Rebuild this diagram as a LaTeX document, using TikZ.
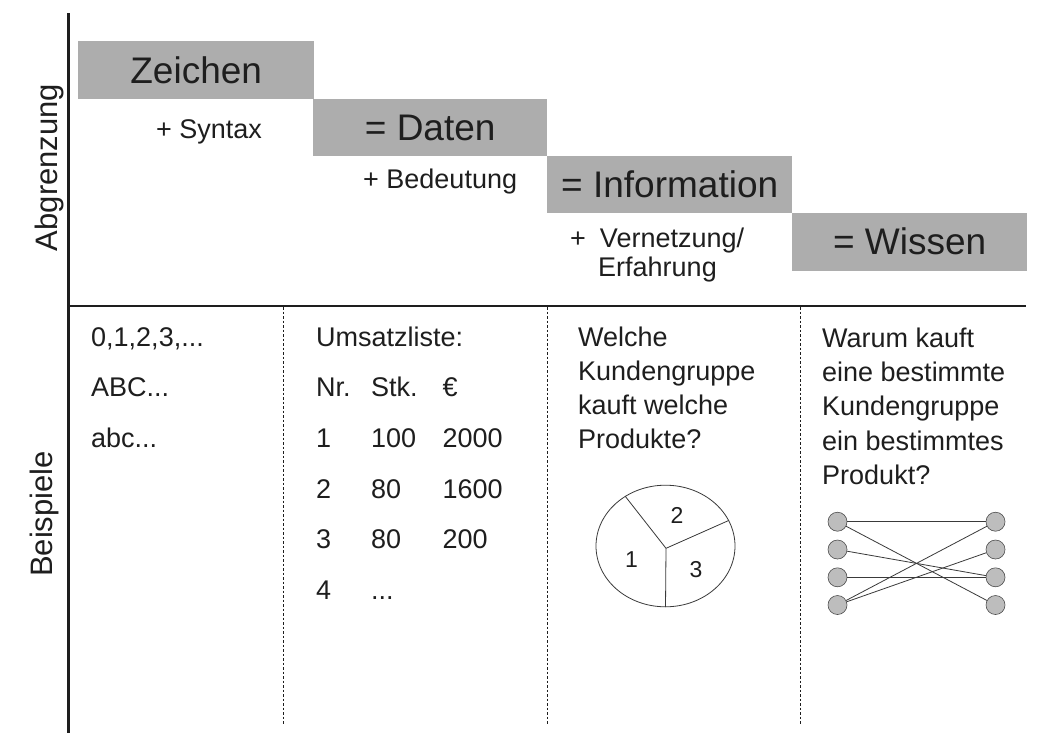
\documentclass[tikz,border=0pt]{standalone}
\usepackage{fontspec}
\setmainfont{Liberation Sans}
\usetikzlibrary{shapes.geometric}
\definecolor{ink}{HTML}{1E1E1E}
\definecolor{boxgray}{HTML}{ADADAD}
\definecolor{dotgray}{HTML}{BDBDBD}
\definecolor{linegray}{HTML}{3A3A3A}
\begin{document}
\begin{tikzpicture}[x=1pt,y=-1pt,
  big/.style={font=\fontsize{37}{40}\selectfont, text=ink},
  stepbox/.style={big, fill=boxgray, inner sep=0pt, minimum height=57.5pt, anchor=north west},
  small/.style={font=\fontsize{27}{32}\selectfont, text=ink, inner sep=0pt, anchor=base west},
  axislabel/.style={font=\fontsize{31}{34}\selectfont, text=ink, inner sep=0pt, rotate=90},
  axisline/.style={draw=ink, line width=3pt},
  sepline/.style={draw=ink, line width=0.9pt, dash pattern=on 2.5pt off 2pt},
  piecut/.style={draw=linegray, line width=0.8pt},
  dot/.style={circle, draw=gray!60!black, line width=0.6pt, fill=dotgray, minimum size=19pt, inner sep=0pt},
  link/.style={draw=linegray, line width=0.8pt},
  pielabel/.style={font=\fontsize{23}{26}\selectfont, text=ink, inner sep=0pt}
]
\useasboundingbox (0,0) rectangle (1056,747);
\fill[white] (0,0) rectangle (1056,747);

% staircase boxes
\node[stepbox, minimum width=236pt] (zeichen) at (78,41.2) {Zeichen};
\node[stepbox, minimum width=234pt] (daten) at (313,98.5) {= Daten};
\node[stepbox, minimum width=245pt] (info) at (547,155.5) {= Information};
\node[stepbox, minimum width=235pt] (wissen) at (792,212.8) {= Wissen};

\node[small] (syntax) at (156,138) {+ Syntax};
\node[small] (bedeutung) at (363,188) {+ Bedeutung};
\node[small] (vernetzung) at (570,247) {+\hspace{14pt}Vernetzung/};
\node[small] (erfahrung) at (598,276.5) {Erfahrung};

% axes
\coordinate (vtop) at (68.5,13.3);
\coordinate (vbot) at (68.5,733);
\coordinate (hl) at (68.5,305.8);
\coordinate (hr) at (1026,305.8);
\draw[axisline] (vtop) -- (vbot);
\draw[axisline, line width=2.5pt] (hl) -- (hr);

\node[axislabel] (abgr) at (49,167.5) {Abgrenzung};
\node[axislabel] (beisp) at (44,514) {Beispiele};

% dashed column separators
\coordinate (s1t) at (283,307); \coordinate (s1b) at (283,724);
\coordinate (s2t) at (547,307); \coordinate (s2b) at (547,725);
\coordinate (s3t) at (800.5,307); \coordinate (s3b) at (800.5,725);
\draw[sepline] (s1t) -- (s1b);
\draw[sepline] (s2t) -- (s2b);
\draw[sepline] (s3t) -- (s3b);

% column 1
\node[small] (c1a) at (91,346) {0,1,2,3,...};
\node[small] (c1b) at (91,396.7) {ABC...};
\node[small] (c1c) at (91,447.4) {abc...};

% column 2
\node[small] (c2h) at (316,346) {Umsatzliste:};
\node[small] (nr) at (316,396.7) {Nr.};
\node[small] (stk) at (371,396.7) {Stk.};
\node[small] (eur) at (442.5,396.7) {€};
\node[small] (r1a) at (316,447.4) {1};
\node[small] (r1b) at (371,447.4) {100};
\node[small] (r1c) at (442.5,447.4) {2000};
\node[small] (r2a) at (316,498.1) {2};
\node[small] (r2b) at (371,498.1) {80};
\node[small] (r2c) at (442.5,498.1) {1600};
\node[small] (r3a) at (316,548.8) {3};
\node[small] (r3b) at (371,548.8) {80};
\node[small] (r3c) at (442.5,548.8) {200};
\node[small] (r4a) at (316,599.5) {4};
\node[small] (r4b) at (371,599.5) {...};

% column 3
\foreach \t [count=\i] in {Welche, Kundengruppe, kauft welche, Produkte?}
  \node[small] (c3l\i) at ({578},{346+34*(\i-1)}) {\t};

% pie chart
\node[ellipse, draw=linegray, line width=0.8pt, minimum width=139pt, minimum height=121.6pt, inner sep=0pt] (pie) at (665.5,546) {};
\coordinate (hub) at (666,548.3);
\draw[piecut] (hub) -- (pie.129.4);
\draw[piecut] (hub) -- (pie.22.5);
\draw[piecut] (hub) -- (pie.south);
\node[pielabel] (p2) at (677,515) {2};
\node[pielabel] (p1) at (631.5,560) {1};
\node[pielabel] (p3) at (696,570) {3};

% column 4
\foreach \t [count=\i] in {Warum kauft, eine bestimmte, Kundengruppe, ein bestimmtes, Produkt?}
  \node[small] (c4l\i) at ({822},{347.5+34.2*(\i-1)}) {\t};

% network
\foreach \k/\y in {1/521.7, 2/549.5, 3/577.3, 4/605}{
  \node[dot] (l\k) at (837.5,\y) {};
  \node[dot] (r\k) at (995.5,\y) {};
}
\draw[link] (l1) -- (r1);
\draw[link] (l1) -- (r4);
\draw[link] (l2) -- (r3);
\draw[link] (l3) -- (r3);
\draw[link] (l4) -- (r1);
\draw[link] (l4) -- (r2);
\end{tikzpicture}
\end{document}
